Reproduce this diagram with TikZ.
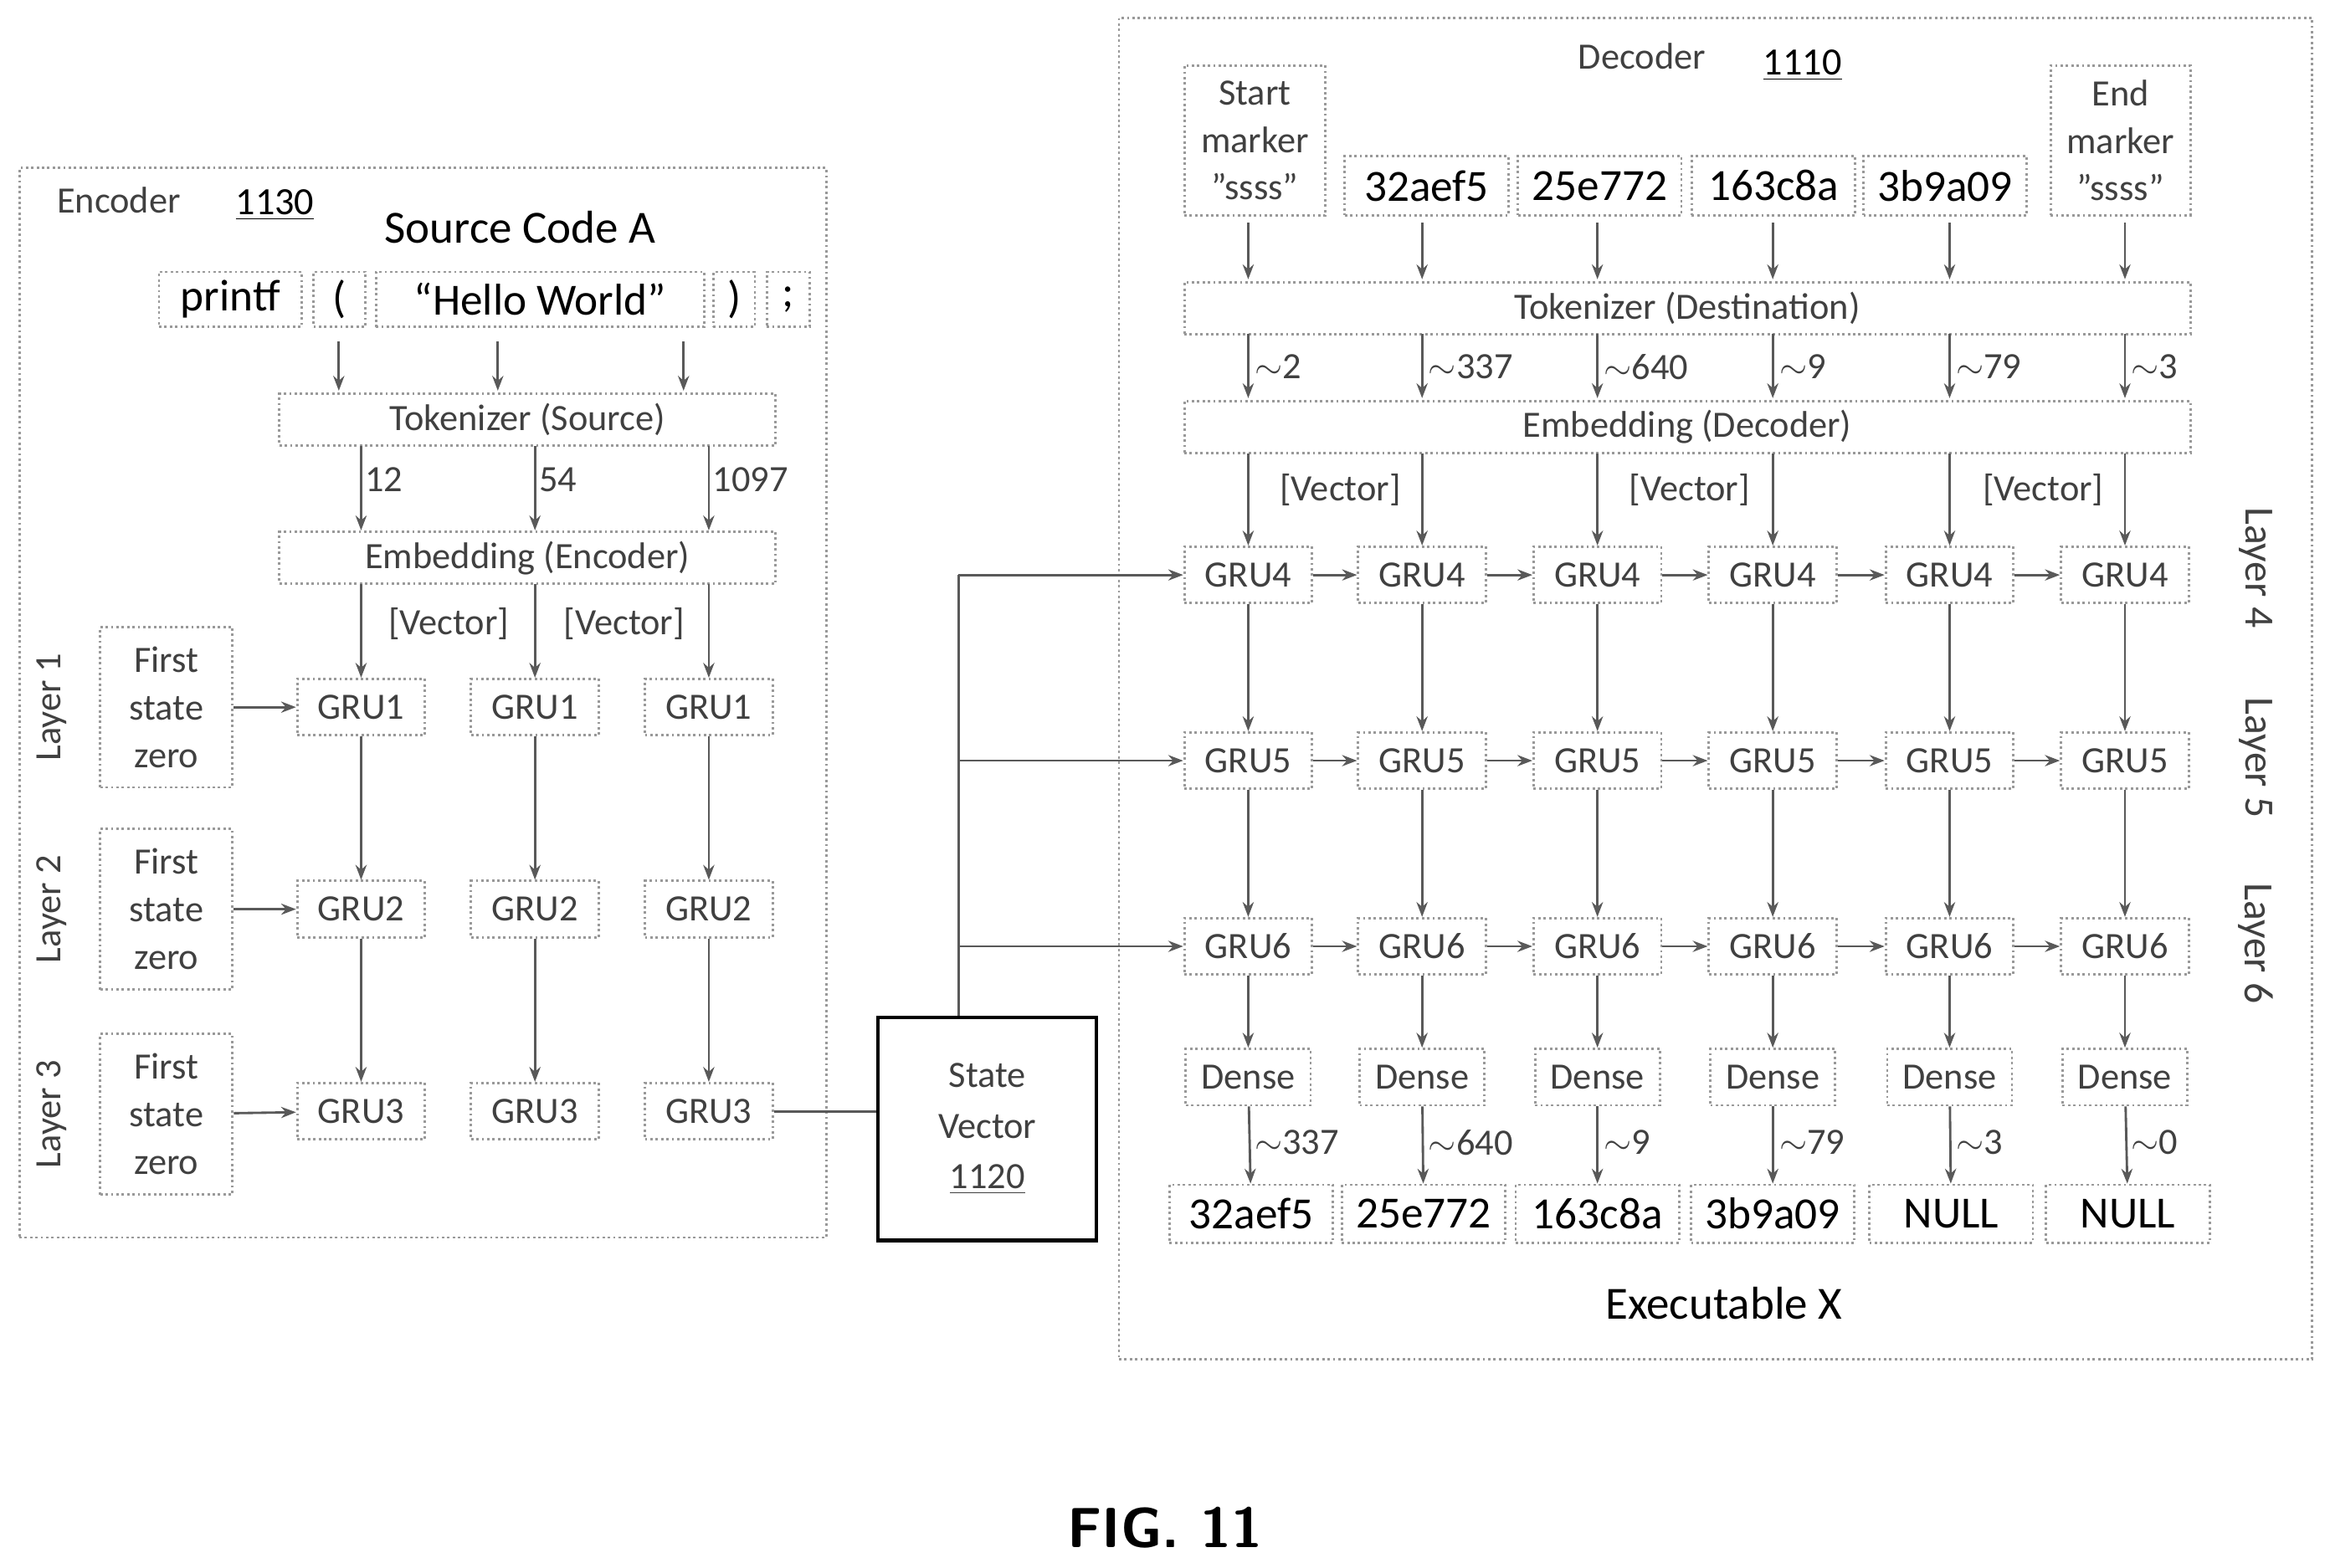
\documentclass[tikz,border=0pt]{standalone}
\usepackage{fontspec}
\setmainfont{Carlito}
\usetikzlibrary{arrows.meta}
\begin{document}
\begin{tikzpicture}[x=0.5pt,y=-0.5pt,
 bx/.style={draw=gray!80,densely dotted,thick,inner sep=0pt,font=\fontsize{12.5}{13}\selectfont,text=gray!50!black},
 tk/.style={draw=gray!80,densely dotted,thick,inner sep=0pt,font=\fontsize{15}{16}\selectfont},
 gru/.style={bx,minimum width=43pt,minimum height=19pt},
 ar/.style={draw=gray!70!black,thick,-{Stealth[length=5pt]}},
 ln/.style={draw=gray!70!black,thick},
 lab/.style={font=\fontsize{12.5}{13}\selectfont,text=gray!50!black,inner sep=1pt}]
\useasboundingbox (0,0) rectangle (1568,1055);
% Encoder
\node[draw=gray!80,densely dotted,thick,minimum width=271.5pt,minimum height=360pt,inner sep=0pt] (enc) at (284.5,473) {};
\node[lab] (encl) at (80,135) {Encoder};
\node[font=\fontsize{13}{14}\selectfont] (encn) at (185,138) {\underline{1130}};
\node[font=\fontsize{15.5}{16}\selectfont] (sca) at (350,153) {Source Code A};
\node[tk,minimum width=48pt,minimum height=18.5pt] (t1) at (155,201.5) {printf};
\node[tk,minimum width=17.5pt,minimum height=18.5pt] (t2) at (228.5,201.5) {(};
\node[tk,minimum width=110.5pt,minimum height=18.5pt] (t3) at (363.5,201.5) {“Hello World”};
\node[tk,minimum width=14pt,minimum height=18.5pt] (t4) at (494,201.5) {)};
\node[tk,minimum width=14.5pt,minimum height=18.5pt] (t5) at (530.5,201.5) {;};
\node[bx,minimum width=167pt,minimum height=17.5pt] (tks) at (355,282.5) {Tokenizer (Source)};
\node[bx,minimum width=167pt,minimum height=17.5pt] (ems) at (355,375.5) {Embedding (Encoder)};
\foreach \x in {228,335,460}{\draw[ar] (\x,230) -- (\x,263);}
\foreach \x/\t in {243/12,360/54,477/1097}{\draw[ar] (\x,300) -- (\x,357) node[lab,anchor=west,pos=0.4] {\t};}
\foreach \x/\i in {243/a,360/b,477/c}{
 \node[gru] (g1\i) at (\x,476) {GRU1};
 \node[gru] (g2\i) at (\x,612) {GRU2};
 \node[gru] (g3\i) at (\x,748) {GRU3};
 \draw[ar] (\x,393) -- (g1\i);
 \draw[ar] (g1\i) -- (g2\i);
 \draw[ar] (g2\i) -- (g3\i);}
\node[lab] (v1) at (302,420) {[Vector]};
\node[lab] (v2) at (420,420) {[Vector]};
\foreach \y/\n/\k in {476/1/a,612/2/b,750/3/c}{
 \node[bx,minimum width=44.5pt,minimum height=54pt,align=center,font=\fontsize{12.5}{16}\selectfont] (fs\n) at (112,\y) {First\\state\\zero};
 \draw[ar] (fs\n) -- (g\n a);
 \node[lab,rotate=90] (ly\n) at (35,\y) {Layer \n};}
% State vector
\node[draw=black,very thick,minimum width=73.5pt,minimum height=75pt,inner sep=0pt] (sv) at (664.5,760) {};
\node[align=center,font=\fontsize{12.5}{17}\selectfont,text=gray!50!black] (svt) at (664.5,760) {State\\Vector\\\underline{1120}};
\draw[ln] (g3c.east) -- (g3c.east -| sv.west);
\coordinate (j4) at (645,387);
\coordinate (j5) at (645,512);
\coordinate (j6) at (645,637);
\draw[ln] (sv.north -| j4) -- (j4);
% Decoder
\node[draw=gray!80,densely dotted,thick,minimum width=401.5pt,minimum height=451.5pt,inner sep=0pt] (dec) at (1154.5,463.5) {};
\node[lab] (decl) at (1105,38) {Decoder};
\node[font=\fontsize{13}{14}\selectfont] (decn) at (1213,44) {\underline{1110}};
\node[bx,minimum width=47.5pt,minimum height=50.5pt,align=center,font=\fontsize{12.5}{16}\selectfont] (sm) at (844.5,94.5) {Start\\marker\\"ssss"};
\node[bx,minimum width=47pt,minimum height=50.5pt,align=center,font=\fontsize{12.5}{16}\selectfont] (em) at (1427,94.5) {End\\marker\\"ssss"};
\foreach \x/\t/\i in {960/32aef5/b,1076.5/25e772/c,1193.5/163c8a/d,1309/3b9a09/e}{
 \node[tk,minimum width=55pt,minimum height=20pt] (in\i) at (\x,125) {\t};}
\node[bx,minimum width=338.5pt,minimum height=17.5pt] (tkd) at (1135.5,207.5) {Tokenizer (Destination)};
\node[bx,minimum width=338.5pt,minimum height=17.5pt] (emd) at (1135.5,287.5) {Embedding (Decoder)};
\foreach \x/\a/\b/\c in {840/2/337/a,957/337/640/b,1075/640/9/c,1193/9/79/d,1312/79/3/e,1430/3/0/f}{
 \draw[ar] (\x,150) -- (\x,188);
 \draw[ar] (\x,225) -- (\x,268);
 \node[lab,anchor=west] (n1\c) at (\x+2,247) {$\sim$\a};
 \node[gru] (g4\c) at (\x,387) {GRU4};
 \node[gru] (g5\c) at (\x,512) {GRU5};
 \node[gru] (g6\c) at (\x,637) {GRU6};
 \node[gru,minimum width=42pt] (dn\c) at (\x,725) {Dense};
 \draw[ar] (\x,305) -- (g4\c);
 \draw[ar] (g4\c) -- (g5\c);
 \draw[ar] (g5\c) -- (g6\c);
 \draw[ar] (g6\c) -- (dn\c);
 \node[lab,anchor=west] (n2\c) at (\x+2,769) {$\sim$\b};}
\foreach \x/\t/\c in {842/32aef5/a,958/25e772/b,1075/163c8a/c,1193/3b9a09/d,1313/NULL/e,1432/NULL/f}{
 \node[tk,minimum width=55pt,minimum height=19.5pt] (o\c) at (\x,817) {\t};
 \draw[ar] (dn\c) -- (o\c);}
\foreach \r in {4,5,6}{
 \draw[ln,-{Stealth[length=5pt]}] (j\r) -- (g\r a);
 \foreach \p/\q in {a/b,b/c,c/d,d/e,e/f}{\draw[ar] (g\r\p) -- (g\r\q);}}
\draw[ln] (j4) -- (j6);
\foreach \x/\k in {902/1,1137/2,1375/3}{\node[lab] (dv\k) at (\x,330) {[Vector]};}
\foreach \y/\n in {382/4,510/5,635/6}{\node[lab,rotate=-90,font=\fontsize{14}{15}\selectfont] (dl\n) at (1518,\y) {Layer \n};}
\node[font=\fontsize{15.5}{16}\selectfont] (ex) at (1160,877) {Executable X};
\node[font=\fontsize{19}{20}\selectfont\bfseries\sffamily] (fig) at (784,1028) {FIG. 11};
\end{tikzpicture}
\end{document}
